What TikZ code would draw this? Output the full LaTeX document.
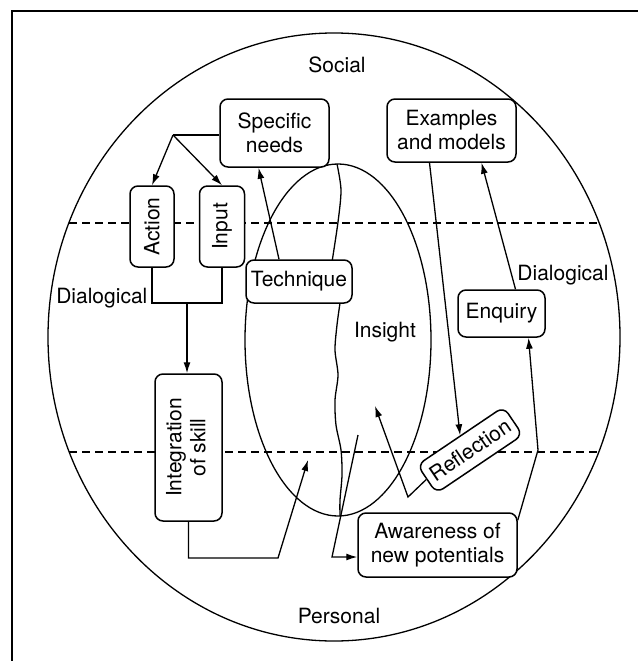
\documentclass[tikz,border=0pt]{standalone}
\usepackage{fontspec}
\setmainfont{TeX Gyre Heros}
\usepackage{graphicx}
\usetikzlibrary{positioning, calc, arrows.meta}

\begin{document}
\begin{tikzpicture}[x=1pt, y=-1pt, line width=1.3pt, font=\fontsize{21}{24}\selectfont, >={Latex[length=11pt,width=7pt]}]
	\tikzset{arrow/.style={->}}
	\tikzset{box/.style={draw, rectangle, rounded corners=8pt, fill=white, align=center, inner sep=0pt, line width=1.5pt}}
	\tikzset{zone/.style={dash pattern=on 8pt off 5pt}}

	\useasboundingbox (0,0) rectangle (638,661);

	% Frame and outer circle
	\draw (12,661) -- (12,11) -- (638,11);
	\draw (334,337) ellipse [x radius=286, y radius=304];
	\draw [zone] (69,223) -- (599,223);
	\draw [zone] (69,452) -- (599,452);

	% Insight region
	\draw (338,340) ellipse [x radius=93, y radius=176];
	\draw plot [smooth] coordinates {(337,164) (341,190) (338,222) (332,262)};
	\draw plot [smooth] coordinates {(340,303) (337,325) (335,350) (338,375) (335,400) (336,425) (341,450) (342,475) (340,500) (340,516)};

	% Labels
	\node (social) [anchor=base] at (337,72) {Social};
	\node (personal) [anchor=base] at (339,623) {Personal};
	\node (dialL) [anchor=base east, inner sep=0pt] at (148,303) {Dialogical};
	\node (dialR) [anchor=base, inner sep=0pt] at (563,280) {Dialogical};
	\node (insight) [anchor=base] at (385,337) {Insight};

	% Boxes
	\node (spec) [box, minimum width=109pt, minimum height=68pt] at (274.5,133) {Specific\\needs};
	\node (exmod) [box, minimum width=129pt, minimum height=63pt] at (451.5,130.5) {Examples\\and models};
	\node (action) [box, minimum width=44pt, minimum height=81pt] at (152,226.5) {\rotatebox{90}{Action}};
	\node (input) [box, minimum width=45pt, minimum height=81pt, right=24pt of action] {\rotatebox{90}{Input}};
	\node (tech) [box, minimum width=106pt, minimum height=43pt] at (299,281.5) {Technique};
	\node (enq) [box, minimum width=87pt, minimum height=47pt] at (501.5,313.5) {Enquiry};
	\node (integ) [box, minimum width=67pt, minimum height=147pt] at (188.5,447.5) {\rotatebox{90}{\begin{tabular}{@{}c@{}}Integration\\of skill\end{tabular}}};
	\node (refl) [box, rotate=34, minimum width=104pt, minimum height=34pt] at (470,450) {Reflection};
	\node (aware) [box, minimum width=159pt, minimum height=64pt] at (437.5,545) {Awareness of\\new potentials};

	% Specific needs to action and input
	\coordinate (split) at (173,135);
	\draw (spec.west |- split) -- (split);
	\draw [arrow] (split) -- (action.north);
	\draw [arrow] (split) -- (input.north);

	% Action and input to integration
	\coordinate (join) at (187,303);
	\draw (action.south) |- (join) -| (input.south);
	\draw [arrow] (join) -- (join |- integ.north);

	% Integration back to insight
	\coordinate (skillturn) at (278,558);
	\coordinate (skilltip) at (308,460);
	\draw [arrow] (integ.south) |- (skillturn) -- (skilltip);

	% Technique to specific needs
	\draw [arrow] ([xshift=-20pt]tech.north) -- ([xshift=-16pt]spec.south);

	% Examples, reflection, enquiry
	\draw [arrow] ([xshift=-22pt]exmod.south) -- (refl.north);
	\draw [arrow] ([xshift=14pt]enq.north) -- ([xshift=30pt]exmod.south);
	\coordinate (enqturn) at (538,450);
	\draw [arrow] ([yshift=-8pt]aware.north east) -- (enqturn) -- ([xshift=27pt]enq.south);

	% Reflection to insight
	\coordinate (reflturn) at (408,497);
	\coordinate (refltip) at (375,406);
	\draw [arrow] (refl.west) -- (reflturn) -- (refltip);

	% Insight to awareness
	\coordinate (insightpt) at (358,435);
	\coordinate (awareturn) at (332,557);
	\draw [arrow] (insightpt) -- (awareturn) -- (awareturn -| aware.west);

\end{tikzpicture}
\end{document}
